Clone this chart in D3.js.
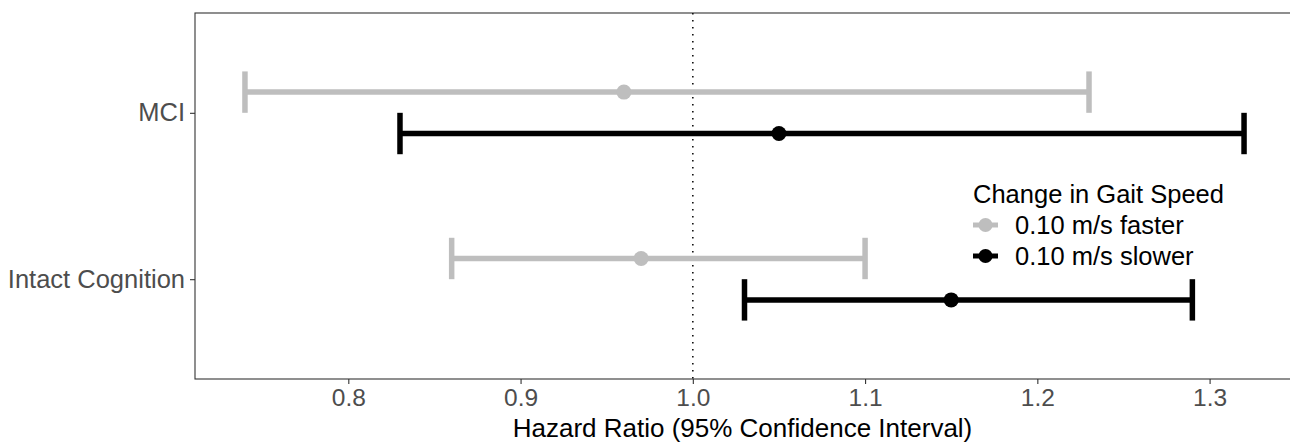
<!DOCTYPE html>
<html>
<head>
<meta charset="utf-8">
<script src="https://cdn.jsdelivr.net/npm/d3@7"></script>
<style>
  body { margin: 0; background: #fff; }
  svg { display: block; font-family: "Liberation Sans", Arial, sans-serif; }
</style>
</head>
<body>
<svg id="chart" width="1290" height="444"></svg>
<script>
var groups = ['MCI', 'Intact Cognition'];
var seriesNames = ['0.10 m/s faster', '0.10 m/s slower'];
var seriesColors = ['#bebebe', '#000000'];
// hazard ratio estimates, lower and upper CI, per group in order of groups
var fasterHR = [0.96, 0.97];
var fasterLow = [0.74, 0.86];
var fasterHigh = [1.23, 1.10];
var slowerHR = [1.05, 1.15];
var slowerLow = [0.83, 1.03];
var slowerHigh = [1.32, 1.29];
var xTicks = [0.8, 0.9, 1.0, 1.1, 1.2, 1.3];

var rows = [];
groups.forEach(function(g, i){
    rows.push({group: g, s: 0, hr: fasterHR[i], lo: fasterLow[i], hi: fasterHigh[i]});
    rows.push({group: g, s: 1, hr: slowerHR[i], lo: slowerLow[i], hi: slowerHigh[i]});
});

var svg = d3.select('#chart');
var panelLeft = 195, panelTop = 13, panelBottom = 379;
var xmin = d3.min(rows, function(d){ return d.lo; });
var xmax = d3.max(rows, function(d){ return d.hi; });
var pad = (xmax - xmin) * 0.05;
var x = d3.scaleLinear().domain([xmin - pad, xmax + pad]).range([panelLeft, 1294]);
var y = d3.scalePoint().domain(groups).range([panelTop, panelBottom]).padding(0.6);
var dodge = 20.7;

// panel border
svg.append('rect')
    .attr('x', panelLeft).attr('y', panelTop)
    .attr('width', x.range()[1] - panelLeft).attr('height', panelBottom - panelTop)
    .style('fill', 'none').style('stroke', '#333').style('stroke-width', 1.1);

// reference line at 1
svg.append('line')
    .attr('x1', x(1)).attr('x2', x(1))
    .attr('y1', panelTop).attr('y2', panelBottom)
    .style('stroke', '#111').style('stroke-width', 1.6)
    .style('stroke-dasharray', '1.6,5.4');

// x axis
var xAxis = svg.append('g')
    .attr('transform', 'translate(0,' + panelBottom + ')')
    .call(d3.axisBottom(x).tickValues(xTicks).tickFormat(d3.format('.1f')).tickSize(5).tickPadding(5));
xAxis.attr('font-family', null).attr('font-size', null);
xAxis.select('.domain').remove();
xAxis.selectAll('line').style('stroke', '#333').style('stroke-width', 1.1);
xAxis.selectAll('text').style('font-size', '24.5px').style('fill', '#4d4d4d');

// y axis
var yAxis = svg.append('g')
    .attr('transform', 'translate(' + panelLeft + ',0)')
    .call(d3.axisLeft(y).tickSize(5).tickPadding(5));
yAxis.attr('font-family', null).attr('font-size', null);
yAxis.select('.domain').remove();
yAxis.selectAll('line').style('stroke', '#333').style('stroke-width', 1.1);
yAxis.selectAll('text').style('font-size', '25.5px').style('fill', '#4d4d4d');

svg.append('text')
    .attr('x', (panelLeft + 1290) / 2).attr('y', 437)
    .attr('text-anchor', 'middle')
    .style('font-size', '26px').style('fill', '#000')
    .text('Hazard Ratio (95% Confidence Interval)');

// error bars
var bars = svg.append('g').selectAll('g.bar').data(rows).enter()
    .append('g').attr('class', 'bar')
    .attr('transform', function(d){ return 'translate(0,' + (y(d.group) + (d.s == 0 ? -dodge : dodge)) + ')'; });
bars.append('line')
    .attr('x1', function(d){ return x(d.lo); })
    .attr('x2', function(d){ return x(d.hi); })
    .style('stroke', function(d){ return seriesColors[d.s]; })
    .style('stroke-width', 5.5);
bars.selectAll('line.cap')
    .data(function(d){ return [d.lo, d.hi].map(function(v){ return {v: v, s: d.s}; }); })
    .enter().append('line').attr('class', 'cap')
    .attr('x1', function(d){ return x(d.v); }).attr('x2', function(d){ return x(d.v); })
    .attr('y1', -dodge).attr('y2', dodge)
    .style('stroke', function(d){ return seriesColors[d.s]; })
    .style('stroke-width', 5.5);
bars.append('circle')
    .attr('cx', function(d){ return x(d.hr); })
    .attr('r', 7.5)
    .style('fill', function(d){ return seriesColors[d.s]; });

// legend
var legend = svg.append('g').attr('transform', 'translate(973,0)');
legend.append('text').attr('x', 0).attr('y', 203)
    .style('font-size', '25.5px').style('fill', '#000')
    .text('Change in Gait Speed');
seriesNames.forEach(function(name, i){
    var ky = 225 + i * 31;
    legend.append('line').attr('x1', 0).attr('x2', 25).attr('y1', ky).attr('y2', ky)
        .style('stroke', seriesColors[i]).style('stroke-width', 5);
    legend.append('circle').attr('cx', 12.5).attr('cy', ky).attr('r', 7)
        .style('fill', seriesColors[i]);
    legend.append('text').attr('x', 42).attr('y', ky + 9)
        .style('font-size', '25.5px').style('fill', '#000')
        .text(name);
});
</script>
</body>
</html>
